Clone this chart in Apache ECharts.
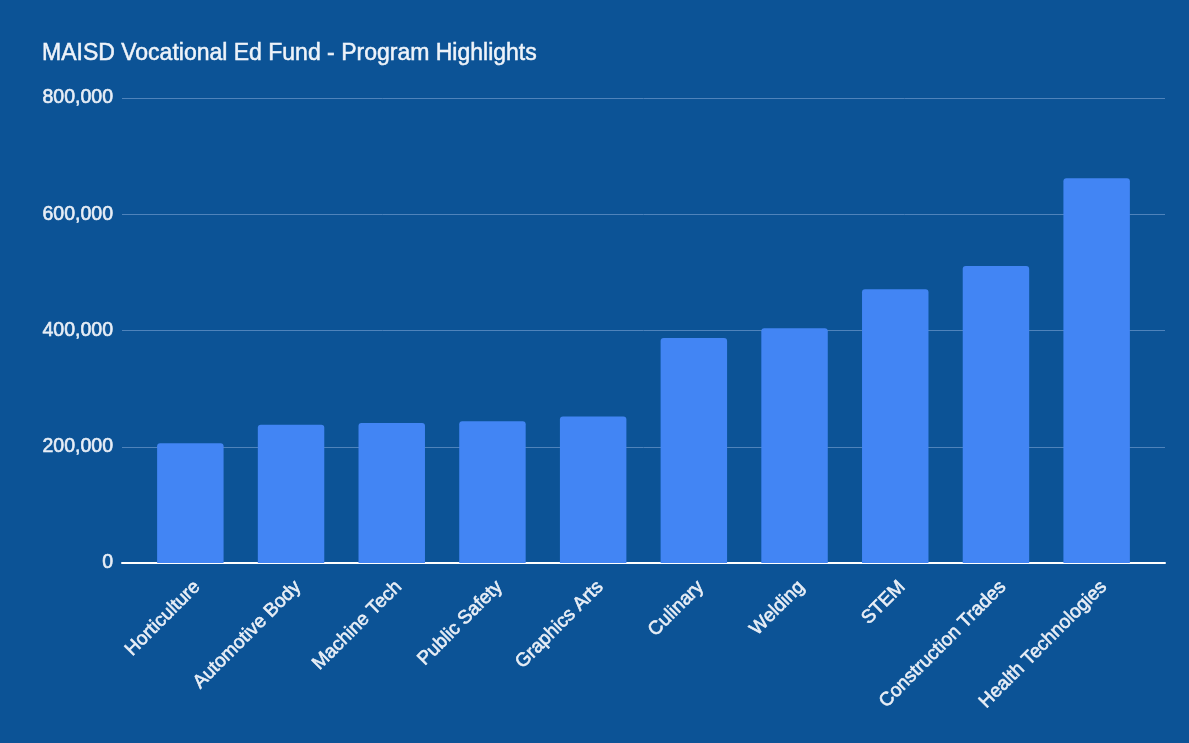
<!DOCTYPE html>
<html>
<head>
<meta charset="utf-8">
<script src="https://cdn.jsdelivr.net/npm/echarts@6/dist/echarts.min.js"></script>
<style>
html,body{margin:0;padding:0;background:#0c5396;}
#chart{width:1189px;height:743px;}
</style>
</head>
<body>
<div id="chart"></div>
<script>
const titleText = "MAISD Vocational Ed Fund - Program Highlights";
const categories = ["Horticulture","Automotive Body","Machine Tech","Public Safety","Graphics Arts","Culinary","Welding","STEM","Construction Trades","Health Technologies"];
const values = [206000, 238000, 241000, 244000, 252000, 387000, 404000, 471000, 511000, 662000];
const yTicks = [0, 200000, 400000, 600000, 800000];

const chart = echarts.init(document.getElementById('chart'), null, {renderer:'canvas'});
const fontFamily = '"Liberation Sans", Arial, sans-serif';
const txt = '#e8eef6';
const fmt = v => v.toLocaleString('en-US');
chart.setOption({
  backgroundColor: '#0c5396',
  title: {
    text: titleText, left: 42, top: 42, padding: 0,
    textStyle: {color: '#eef3f9', fontSize: 23, fontWeight: 'normal', fontFamily: fontFamily,
                textBorderColor: '#eef3f9', textBorderWidth: 0.5}
  },
  grid: [
    {left: 122, right: 24, top: 98, bottom: 180},
    {left: 140, right: 42, top: 98, bottom: 180},
    {left: 147, right: 35, top: 98, bottom: 180}
  ],
  xAxis: [
    {type: 'category', gridIndex: 0, data: categories, axisLine: {show: true, lineStyle: {color: '#ffffff', width: 2}},
     axisTick: {show: false}, axisLabel: {show: false}, splitLine: {show: false}},
    {type: 'category', gridIndex: 1, data: categories, axisLine: {show: false}, axisTick: {show: false},
     axisLabel: {show: false}},
    {type: 'category', gridIndex: 2, data: categories, axisLine: {show: false}, axisTick: {show: false},
     axisLabel: {rotate: 45, color: txt, fontSize: 19, fontWeight: 'normal', fontFamily: fontFamily, margin: 21, interval: 0,
                 textBorderColor: txt, textBorderWidth: 0.6}}
  ],
  yAxis: [
    {type: 'value', gridIndex: 0, min: yTicks[0], max: yTicks[yTicks.length-1], interval: 200000,
     axisLine: {show: false}, axisTick: {show: false},
     axisLabel: {color: txt, fontSize: 19.5, fontWeight: 'normal', fontFamily: fontFamily, formatter: fmt, margin: 9,
                 textBorderColor: txt, textBorderWidth: 0.6},
     splitLine: {lineStyle: {color: '#4f83bb', width: 1}}},
    {type: 'value', gridIndex: 1, min: yTicks[0], max: yTicks[yTicks.length-1], interval: 200000,
     axisLine: {show: false}, axisTick: {show: false}, axisLabel: {show: false}, splitLine: {show: false}},
    {type: 'value', gridIndex: 2, min: yTicks[0], max: yTicks[yTicks.length-1], interval: 200000,
     axisLine: {show: false}, axisTick: {show: false}, axisLabel: {show: false}, splitLine: {show: false}}
  ],
  series: [{
    type: 'bar', xAxisIndex: 1, yAxisIndex: 1, data: values,
    barCategoryGap: '34%',
    itemStyle: {color: '#4285f4', borderRadius: [3,3,0,0]},
    z: 1
  }]
});
</script>
</body>
</html>
